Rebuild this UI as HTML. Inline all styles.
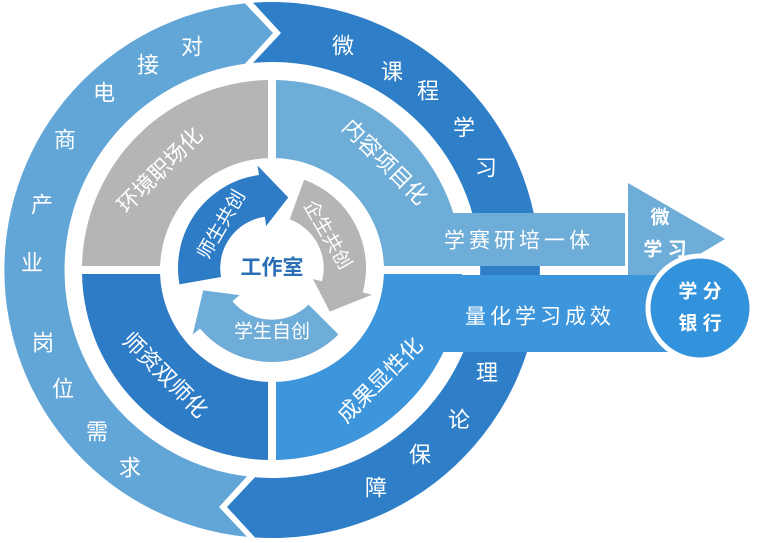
<!DOCTYPE html>
<html><head><meta charset="utf-8"><style>
html,body{margin:0;padding:0;background:#fff;}
svg{display:block}
text{font-family:"Liberation Sans","Noto Sans CJK SC",sans-serif;fill:#fff;text-anchor:middle;dominant-baseline:central}
</style></head><body>
<svg width="760" height="543" viewBox="0 0 760 543">
<path d="M253,2.7 A268 268 0 1 1 255,537.5 L227,507 L255,477.3 A208 208 0 1 0 253,62.9 L281,33 Z" fill="#2f7fc8"/>
<path d="M247,536.8 A268 268 0 0 1 245,3.4 L273,33 L245,63.8 A208 208 0 0 0 247,476.4 L219,507 Z" fill="#62a6d8"/>
<path d="M82,266 A190 190 0 0 1 268,80 L268,158.1 A112 112 0 0 0 160.1,266 Z" fill="#b5b5b5"/>
<path d="M276,80 A190 190 0 0 1 462,266 L383.9,266 A112 112 0 0 0 276,158.1 Z" fill="#6fadd9"/>
<path d="M462,274 A190 190 0 0 1 276,460 L276,381.9 A112 112 0 0 0 383.9,274 Z" fill="#3d95dc"/>
<path d="M268,460 A190 190 0 0 1 82,274 L160.1,274 A112 112 0 0 0 268,381.9 Z" fill="#2f7cc6"/>
<rect x="385" y="213" width="240" height="53" fill="#6fadd9"/>
<polygon points="628,183 725,239 628,297" fill="#6fadd9"/>
<rect x="385" y="275" width="285" height="77" fill="#3d95dc"/>
<circle cx="700" cy="308" r="52" fill="#3293dc" stroke="#fff" stroke-width="5"/>
<g transform="translate(272,268) scale(0.94) translate(-272,-268)">
<path d="M173.5,285.4 A100 100 0 0 1 258.1,169 L256.7,159.1 L289.3,193 L265.7,223.5 L264.4,213.5 A55 55 0 0 0 217.8,277.6 Z" fill="#2f7cc6"/>
<path d="M306.2,174 A100 100 0 0 1 368.6,293.9 L378.3,296.5 L333.5,314.4 L315.5,279.7 L325.1,282.2 A55 55 0 0 0 290.8,216.3 Z" fill="#b5b5b5"/>
<path d="M342.7,338.7 A100 100 0 0 1 195.4,332.3 L187.7,338.7 L198.8,291.8 L237.5,296.9 L229.9,303.4 A55 55 0 0 0 310.9,306.9 Z" fill="#6fadd9"/>
</g>
<g font-size="22">
<text x="130" y="468">求</text><text x="97" y="432">需</text><text x="63" y="389">位</text><text x="43" y="343">岗</text><text x="32" y="263">业</text><text x="42" y="205">产</text><text x="65" y="140">商</text><text x="104" y="93">电</text><text x="148" y="65">接</text><text x="192" y="47">对</text>
<text x="343" y="46">微</text><text x="392" y="72">课</text><text x="428" y="91">程</text><text x="464" y="128">学</text><text x="486" y="168">习</text>
<text x="487" y="373">理</text><text x="459" y="420">论</text><text x="420" y="455">保</text><text x="376" y="488">障</text>
</g>
<g font-size="22">
<text transform="translate(160,170) rotate(-45)">环境职场化</text>
<text transform="translate(385,162) rotate(45)">内容项目化</text>
<text transform="translate(380,380) rotate(-45)">成果显性化</text>
<text transform="translate(165,375) rotate(45)">师资双师化</text>
</g>
<g font-size="19">
<text transform="translate(222,225) rotate(-60)">师生共创</text>
<text transform="translate(327,235) rotate(60)">企生共创</text>
<text x="272" y="332">学生自创</text>
</g>
<text x="272" y="268" font-size="21" font-weight="bold" style="fill:#2a6fb5">工作室</text>
<g font-size="21" letter-spacing="4">
<text x="519" y="241">学赛研培一体</text>
<text x="540" y="317">量化学习成效</text>
</g>
<g font-size="19" font-weight="bold">
<text x="660" y="218">微</text>
<text x="665" y="250">学 习</text>
<text x="700" y="292">学 分</text>
<text x="700" y="324">银 行</text>
</g>
</svg>
</body></html>
